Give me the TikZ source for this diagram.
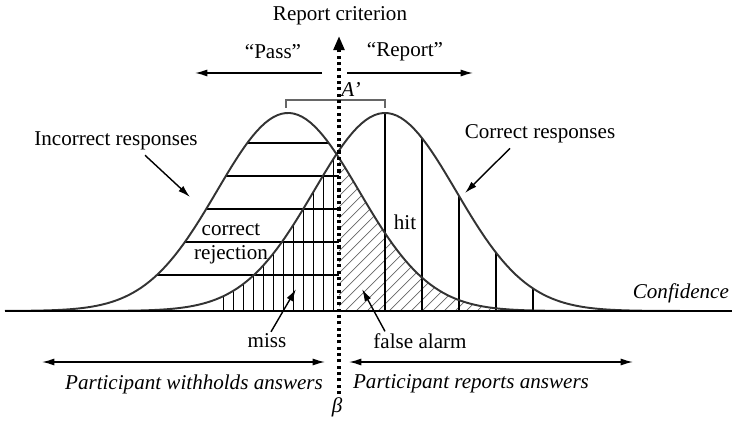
\documentclass[tikz,border=0pt]{standalone}
\usepackage{fontspec}
\setmainfont{Liberation Serif}
\usetikzlibrary{arrows.meta}
\tikzset{
  lbl/.style={font=\fontsize{12}{14}\selectfont, inner sep=1pt},
  ilbl/.style={font=\fontsize{12}{14}\selectfont\itshape, inner sep=1pt},
  curve/.style={line width=1.1pt, black!80},
  pointer/.style={-{Latex[length=7pt,width=4pt]}, line width=0.8pt},
  span/.style={{Latex[length=7pt,width=4pt]}-{Latex[length=7pt,width=4pt]}, line width=0.8pt},
  crit/.style={line width=2pt, dash pattern=on 1.8pt off 1.8pt},
}
% noise (incorrect) and signal (correct) curves, y in px from the top
\newcommand{\noisey}[1]{311-198*exp(-0.5*((#1-288)/71)^2)}
\newcommand{\signaly}[1]{311-198*exp(-0.5*((#1-385)/71)^2)}
\begin{document}
\begin{tikzpicture}[x=0.02cm,y=-0.02cm]
\useasboundingbox (0,0) rectangle (732,428);
% correct rejection
\begin{scope}
  \clip (0,0) rectangle (339,311);
  \clip plot[domain=5:620,samples=150] (\x,{\noisey{\x}}) -- cycle;
  \foreach \h in {143,176,209,242,275}
    \draw[line width=0.6pt] (0,\h) -- (339,\h);
\end{scope}
% false alarm
\begin{scope}
  \clip (339,0) rectangle (732,311);
  \clip plot[domain=5:620,samples=150] (\x,{\noisey{\x}}) -- cycle;
  \foreach \k in {0,...,40}
    \draw[black!60, line width=0.4pt] (180+11*\k,311) -- ++(200,-200);
\end{scope}
% miss
\foreach \x in {223,233,...,333}
  \draw[line width=0.5pt] (\x,311) -- (\x,{\signaly{\x}});
% hit
\foreach \x in {385,422,459,496,533}
  \draw[line width=0.6pt] (\x,311) -- (\x,{\signaly{\x}});
% the two distributions
\draw[curve] plot[domain=5:620,samples=150] (\x,{\noisey{\x}});
\draw[curve] plot[domain=60:720,samples=150] (\x,{\signaly{\x}});
\draw[line width=1.4pt] (5,311) coordinate (axl) -- (732,311) coordinate (axr);
\node[ilbl, anchor=east] (conf) at (731,293) {Confidence};
% A' bracket
\draw[black!60, line width=0.6pt] (286,108) -- (286,100) -- (385,100) -- (385,108);
\node[ilbl] (aprime) at (351,89) {A’};
% criterion
\coordinate (critbot) at (339,394);
\coordinate (crittop) at (339,36);
\draw[crit, -{Triangle[length=8pt,width=6pt]}] (critbot) -- (crittop);
\node[lbl] (crit) at (340,16) {Report criterion};
\node[ilbl] (beta) at (337,407) {β};
% pass / report
\node[lbl] (pass) at (273,52) {“Pass”};
\node[lbl] (report) at (405,52) {“Report”};
\coordinate (passa) at (322,73);
\coordinate (passb) at (195,73);
\coordinate (repa) at (347,73);
\coordinate (repb) at (473,73);
\draw[pointer] (passa) -- (passb);
\draw[pointer] (repa) -- (repb);
% curve labels
\node[lbl] (incorrect) at (116,141) {Incorrect responses};
\node[lbl] (correct) at (540,134) {Correct responses};
\coordinate (incorrtip) at (190,197);
\coordinate (corrtip) at (465,193);
\draw[pointer] (incorrect.south -| 145,0) ++(0,3) -- (incorrtip);
\draw[pointer] (correct.south -| 510,0) ++(0,3) -- (corrtip);
% area labels
\node[lbl, align=center] (rejection) at (231,244) {correct\\rejection};
\node[lbl] (hit) at (405,222) {hit};
\node[lbl] (miss) at (267,341) {miss};
\node[lbl] (falarm) at (420,341) {false alarm};
\coordinate (misstip) at (296,289);
\coordinate (fatip) at (362,289);
\draw[pointer] (miss.north -| 271,0) -- (misstip);
\draw[pointer] (falarm.north -| 385,0) -- (fatip);
% answer ranges
\coordinate (wa) at (42,362);
\coordinate (wb) at (325,362);
\coordinate (ra) at (349,362);
\coordinate (rb) at (633,362);
\draw[span] (wa) -- (wb);
\draw[span] (ra) -- (rb);
\node[ilbl] (withholds) at (194,384) {Participant withholds answers};
\node[ilbl] (reports) at (471,384) {Participant reports answers};
\end{tikzpicture}
\end{document}
